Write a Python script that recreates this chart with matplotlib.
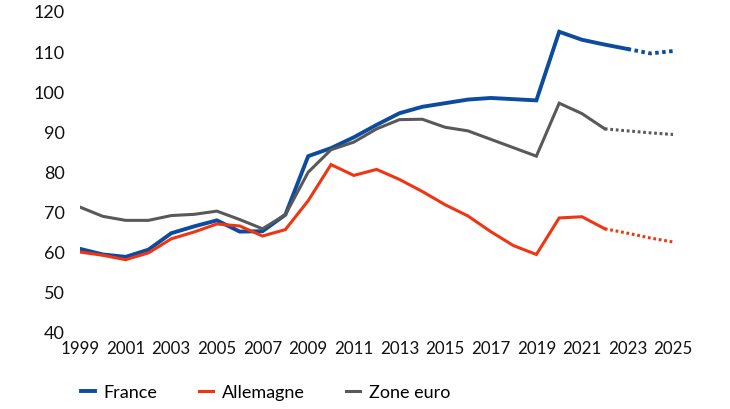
import matplotlib.pyplot as plt

years = list(range(1999, 2026))

# données observées (trait plein) puis prévisions (pointillés)
france = [60.7, 59.3, 58.7, 60.5, 64.6, 66.3, 67.8, 65.0, 65.1, 69.2,
          83.8, 85.8, 88.5, 91.6, 94.5, 96.1, 97.0, 97.9, 98.3, 98.0,
          97.7, 114.8, 112.8, 111.6, 110.5, 109.4, 110.0]
allemagne = [59.9, 59.1, 58.0, 59.7, 63.2, 64.9, 66.9, 66.4, 63.9, 65.5,
             72.7, 81.7, 79.0, 80.5, 78.0, 75.0, 71.7, 68.9, 65.0, 61.5,
             59.3, 68.4, 68.7, 65.7, 64.6, 63.4, 62.4]
zone_euro = [71.1, 68.8, 67.8, 67.8, 69.0, 69.3, 70.1, 68.0, 65.7, 69.2,
             79.8, 85.4, 87.3, 90.6, 92.9, 93.0, 91.0, 90.1, 88.0, 85.9,
             83.8, 97.0, 94.4, 90.6, 90.1, 89.6, 89.2]

# dernière année observée pour chaque série
last_obs = {'France': 2023, 'Allemagne': 2022, 'Zone euro': 2022}

plt.rcParams['font.family'] = ['Lato', 'DejaVu Sans']

fig = plt.figure(figsize=(7.3, 4.1), dpi=100)
ax = fig.add_axes([0.1096, 0.188, 0.8127, 0.783])

series = [('France', france, '#0B4C9F', 2.8),
          ('Allemagne', allemagne, '#F03512', 2.2),
          ('Zone euro', zone_euro, '#595959', 2.2)]

for name, vals, col, lw in series:
    i = years.index(last_obs[name])
    ax.plot(years[:i + 1], vals[:i + 1], color=col, lw=lw, label=name,
            solid_joinstyle='miter')
    ax.plot(years[i:], vals[i:], color=col, lw=lw, linestyle=(0, (0.9, 0.9)))

ax.set_xlim(1999, 2025)
ax.set_ylim(40, 120)
ax.set_xticks(years[::2])
ax.set_yticks(range(40, 121, 10))
ax.tick_params(length=0, colors='#111111')
ax.tick_params(axis='y', pad=11, labelsize=13)
ax.tick_params(axis='x', pad=6, labelsize=12.2)
for s in ax.spines.values():
    s.set_visible(False)

fig.legend(loc='center left', bbox_to_anchor=(0.089, 0.041), ncol=3,
           frameon=False, fontsize=13, handlelength=0.75,
           columnspacing=2.3, handletextpad=0.5)

fig.savefig('out.png', dpi=100)
